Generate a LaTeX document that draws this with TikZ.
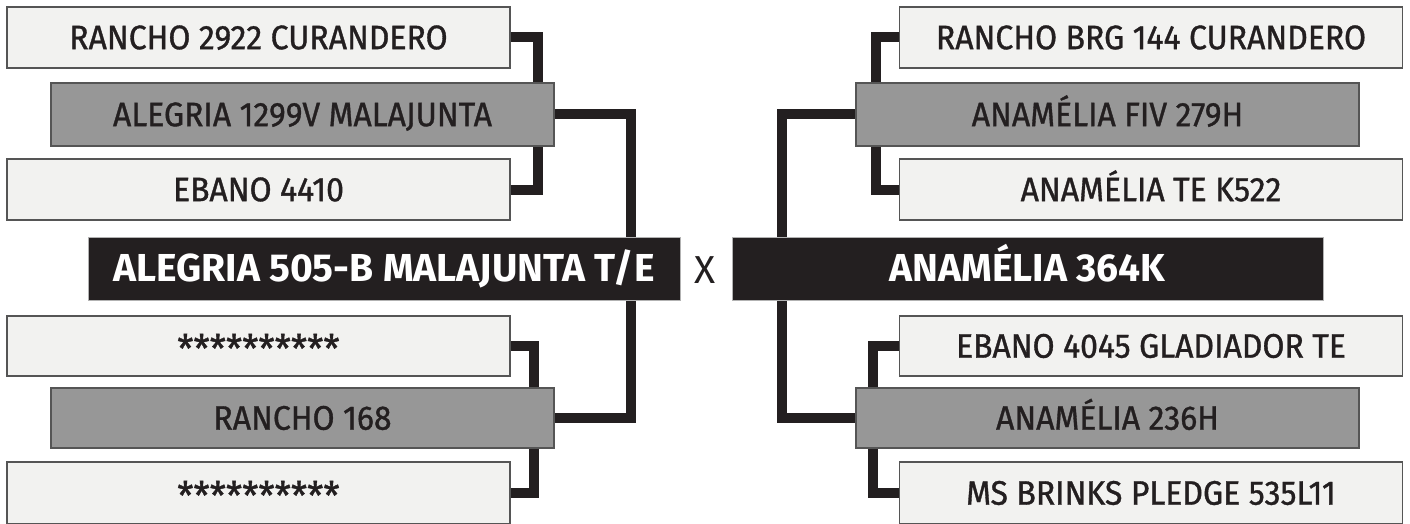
\documentclass[tikz,border=0pt]{standalone}
\usepackage{fontspec}
\setmainfont{Fira Sans}[FakeStretch=0.94, FakeBold=1.0]
\newfontfamily\headfont{Fira Sans}[FakeStretch=1.0]
\usetikzlibrary{backgrounds}
\definecolor{ink}{HTML}{231F20}
\definecolor{lightfill}{HTML}{F2F2F0}
\definecolor{midfill}{HTML}{979797}
\definecolor{edge}{HTML}{555555}
\newcommand{\starrow}{\raisebox{-5pt}{\fontsize{39}{39}\selectfont **********}}
\tikzset{
  pbox/.style={draw=edge, line width=1.2pt, inner sep=0pt, text=ink,
    font=\fontsize{34}{34}\selectfont, text height=23.4pt, text depth=0pt,
    minimum width=503pt},
  lightbox/.style={pbox, fill=lightfill},
  graybox/.style={pbox, fill=midfill},
  mainbox/.style={draw=gray!60, line width=1pt, fill=ink, text=white, inner sep=0pt,
    font=\headfont\fontsize{39}{39}\selectfont\bfseries, text height=26.9pt, text depth=0pt,
    minimum height=63pt},
  conn/.style={draw=ink, line width=10pt, line join=miter, line cap=butt}
}
\begin{document}
\begin{tikzpicture}[x=1pt,y=-1pt]
\useasboundingbox (0,0) rectangle (1410,524);
% left side
\node[lightbox, minimum height=61pt] (L1) at (258.5,37.5) {RANCHO 2922 CURANDERO};
\node[graybox,  minimum height=63pt] (L2) at (302.5,114.5) {ALEGRIA 1299V MALAJUNTA};
\node[lightbox, minimum height=61pt] (L3) at (258.5,189.5) {EBANO 4410};
\node[mainbox, minimum width=592pt] (LM) at (384,268.5) {ALEGRIA 505-B MALAJUNTA T/E};
\node[lightbox, minimum height=60pt] (L4) at (258.5,346) {\starrow};
\node[graybox,  minimum height=60pt] (L5) at (302.5,418) {RANCHO 168};
\node[lightbox, minimum height=62pt] (L6) at (258.5,493) {\starrow};
% cross
\node[text=ink, inner sep=0pt, font=\headfont\fontsize{39}{39}\selectfont, text height=26.9pt, text depth=0pt] (X) at (705.5,270.5) {X};
% right side
\node[mainbox, minimum width=591pt] (RM) at (1027.5,268.5) {ANAMÉLIA 364K};
\node[lightbox, minimum height=61pt] (R1) at (1151,37.5) {RANCHO BRG 144 CURANDERO};
\node[graybox,  minimum height=63pt] (R2) at (1107.5,114.5) {ANAMÉLIA FIV 279H};
\node[lightbox, minimum height=61pt] (R3) at (1151,189.5) {ANAMÉLIA TE K522};
\node[lightbox, minimum height=60pt] (R4) at (1151,346) {EBANO 4045 GLADIADOR TE};
\node[graybox,  minimum height=60pt] (R5) at (1107.5,418) {ANAMÉLIA 236H};
\node[lightbox, minimum height=62pt] (R6) at (1151,493) {MS BRINKS PLEDGE 535L11};
% connectors
\begin{scope}[on background layer]
\draw[conn] (L1.east) -- ++(27,0) |- (L3.east);
\draw[conn] (L2.east) -- ++(76,0) |- (L5.east);
\draw[conn] (L4.east) -- ++(23,0) |- (L6.east);
\draw[conn] (R1.west) -- ++(-23,0) |- (R3.west);
\draw[conn] (R2.west) -- ++(-73,0) |- (R5.west);
\draw[conn] (R4.west) -- ++(-26,0) |- (R6.west);
\end{scope}
\end{tikzpicture}
\end{document}
